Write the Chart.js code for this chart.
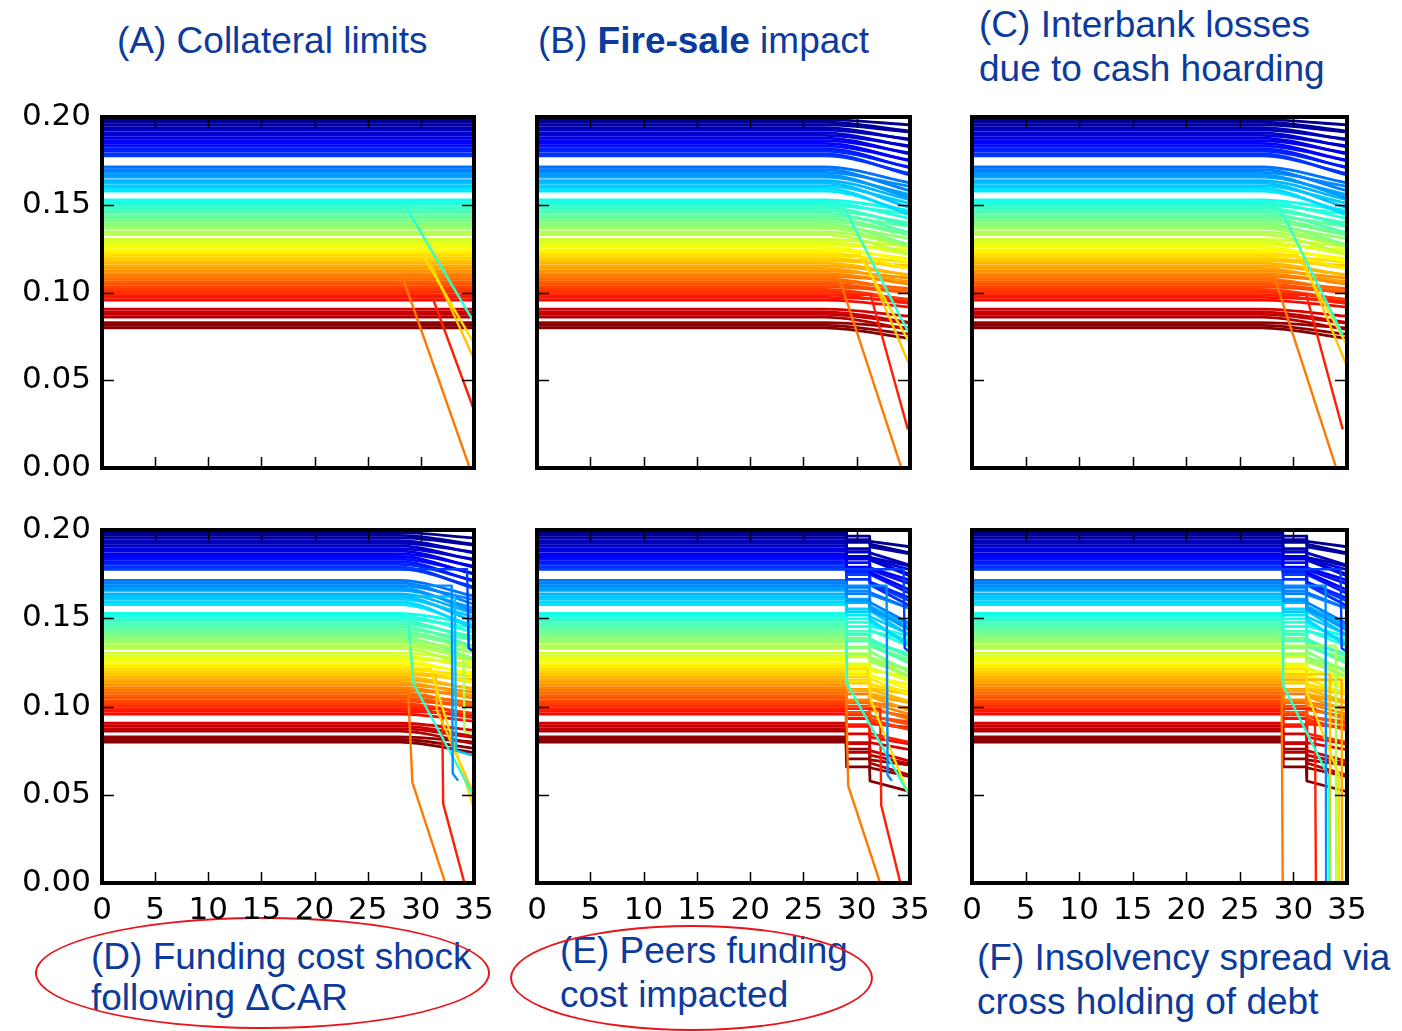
<!DOCTYPE html>
<html>
<head>
<meta charset="utf-8">
<script src="https://cdn.jsdelivr.net/npm/chart.js@4.4.0/dist/chart.umd.min.js"></script>
<style>
  body { margin: 0; width: 1402px; height: 1031px; background: #fff; position: relative; overflow: hidden; font-family: "Liberation Sans", Arial, sans-serif; }
  canvas { position: absolute; }
  .title { position: absolute; color: #0d3b9b; font-size: 37px; line-height: 44px; white-space: nowrap; }
  .ring { position: absolute; border: 2px solid #e8141c; border-radius: 50%; box-sizing: border-box; }
</style>
</head>
<body>
<div class="title" style="left:117px;top:19px">(A) Collateral limits</div>
<div class="title" style="left:538px;top:19px">(B) <b>Fire-sale</b> impact</div>
<div class="title" style="left:979px;top:3px">(C) Interbank losses<br>due to cash hoarding</div>
<div class="title" style="left:91px;top:936px;line-height:41px">(D) Funding cost shock<br>following ΔCAR</div>
<div class="title" style="left:560px;top:929px">(E) Peers funding<br>cost impacted</div>
<div class="title" style="left:977px;top:936px">(F) Insolvency spread via<br>cross holding of debt</div>
<div class="ring" style="left:35px;top:917px;width:455px;height:112px"></div>
<div class="ring" style="left:510px;top:925px;width:363px;height:106px"></div>

<canvas id="chartA"></canvas>
<canvas id="chartB"></canvas>
<canvas id="chartC"></canvas>
<canvas id="chartD"></canvas>
<canvas id="chartE"></canvas>
<canvas id="chartF"></canvas>

<script>
const xTickLabels = ['0', '5', '10', '15', '20', '25', '30', '35'];
const yTickLabels = ['0.00', '0.05', '0.10', '0.15', '0.20'];

// starting capital ratio of each bank (one flat line each)
const levels = [
  0.1985, 0.1970, 0.1955, 0.1940, 0.1925, 0.1910, 0.1895, 0.1880, 0.1865, 0.1850, 0.1835, 0.1820, 0.1805, 0.1790, 0.1778,
  0.1715, 0.1700, 0.1685, 0.1670, 0.1658,
  0.1638, 0.1623, 0.1608, 0.1593, 0.1578,
  0.1527, 0.1512, 0.1497, 0.1482, 0.1467, 0.1452, 0.1437, 0.1422, 0.1407, 0.1392, 0.1377, 0.1365,
  0.1345, 0.1330,
  0.1302, 0.1287, 0.1272, 0.1257, 0.1242, 0.1227, 0.1212, 0.1197, 0.1182, 0.1167, 0.1152, 0.1137,
  0.1122, 0.1107, 0.1092, 0.1077, 0.1062, 0.1047, 0.1032, 0.1017, 0.1002, 0.0987, 0.0972, 0.0957,
  0.0905, 0.0890, 0.0875, 0.0860,
  0.0828, 0.0813, 0.0798
];

// decline reached at t = 35 once fire sales start (panels B to F)
const fanDrop = [
  0.003, 0.005, 0.004, 0.007, 0.005, 0.008, 0.006, 0.009, 0.007, 0.010, 0.008, 0.011, 0.009, 0.012, 0.010,
  0.009, 0.012, 0.008, 0.013, 0.010,
  0.011, 0.014, 0.010, 0.015, 0.012,
  0.006, 0.009, 0.005, 0.010, 0.007, 0.011, 0.006, 0.009, 0.008, 0.012, 0.007, 0.010,
  0.008, 0.011,
  0.004, 0.007, 0.003, 0.008, 0.005, 0.009, 0.004, 0.006, 0.003, 0.007, 0.005, 0.008,
  0.004, 0.006, 0.003, 0.007, 0.004, 0.005, 0.003, 0.006, 0.004, 0.005, 0.002, 0.004,
  0.004, 0.006, 0.005, 0.007,
  0.003, 0.005, 0.006
];

// step down at t = 29 (funding cost to peers, panels E and F)
const stepAt29 = [
  0.002, 0.004, 0.001, 0.005, 0.003, 0.006, 0.002, 0.004, 0.003, 0.006, 0.002, 0.005, 0.004, 0.007, 0.003,
  0.004, 0.006, 0.003, 0.007, 0.005,
  0.005, 0.003, 0.007, 0.004, 0.006,
  0.003, 0.006, 0.002, 0.007, 0.004, 0.008, 0.003, 0.005, 0.002, 0.006, 0.004, 0.007,
  0.005, 0.003,
  0.002, 0.005, 0.003, 0.006, 0.002, 0.004, 0.007, 0.003, 0.005, 0.002, 0.006, 0.004,
  0.003, 0.007, 0.002, 0.005, 0.004, 0.008, 0.003, 0.006, 0.005, 0.009, 0.004, 0.007,
  0.006, 0.010, 0.008, 0.012,
  0.007, 0.011, 0.014
];

// second step down at t = 31.2 (panels E and F)
const stepAt31 = [
  0.003, 0.001, 0.004, 0.002, 0.005, 0.002, 0.004, 0.001, 0.005, 0.003, 0.004, 0.002, 0.006, 0.003, 0.005,
  0.003, 0.005, 0.002, 0.004, 0.006,
  0.002, 0.005, 0.003, 0.006, 0.004,
  0.004, 0.002, 0.005, 0.003, 0.006, 0.002, 0.005, 0.003, 0.004, 0.002, 0.006, 0.003,
  0.004, 0.002,
  0.003, 0.002, 0.004, 0.002, 0.005, 0.003, 0.002, 0.004, 0.003, 0.005, 0.002, 0.004,
  0.003, 0.002, 0.005, 0.003, 0.004, 0.002, 0.006, 0.003, 0.004, 0.005, 0.003, 0.006,
  0.005, 0.004, 0.007, 0.006,
  0.006, 0.005, 0.008
];

// banks that break down, per panel: starting level and [t, ratio] points after the flat part
const dropsA = [
  { from: 0.1497, path: [[28.5, 0.1497], [35, 0.083]] },
  { from: 0.1212, path: [[30.2, 0.1212], [35, 0.071]] },
  { from: 0.1182, path: [[30.8, 0.1182], [35, 0.062]] },
  { from: 0.1092, path: [[28.25, 0.1092], [34.6, 0.0]] },
  { from: 0.0987, path: [[31.0, 0.0987], [35, 0.033]] }
];
const dropsB = [
  { from: 0.1497, path: [[28.7, 0.1497], [34.8, 0.078]] },
  { from: 0.1212, path: [[30.3, 0.1212], [35, 0.071]] },
  { from: 0.1182, path: [[30.8, 0.1182], [35, 0.058]] },
  { from: 0.1092, path: [[28.3, 0.1092], [34.2, 0.0]] },
  { from: 0.0987, path: [[31.3, 0.0987], [34.8, 0.022]] }
];
const dropsC = [
  { from: 0.1497, path: [[28.6, 0.1497], [34.6, 0.076]] },
  { from: 0.1212, path: [[30.4, 0.1212], [35, 0.070]] },
  { from: 0.1182, path: [[30.9, 0.1182], [35, 0.058]] },
  { from: 0.1092, path: [[28.2, 0.1092], [34.0, 0.0]] },
  { from: 0.0987, path: [[31.2, 0.0987], [34.6, 0.022]] }
];
const dropsD = [
  { from: 0.1778, path: [[34.35, 0.1778], [34.5, 0.133], [35, 0.131]] },
  { from: 0.1685, path: [[32.9, 0.1685], [33.0, 0.062], [33.5, 0.058]] },
  { from: 0.1623, path: [[33.2, 0.1623], [33.3, 0.075], [35, 0.072]] },
  { from: 0.1345, path: [[34.0, 0.1345], [34.1, 0.086], [35, 0.084]] },
  { from: 0.1497, path: [[28.8, 0.1497], [29.3, 0.113], [34.9, 0.050]] },
  { from: 0.1212, path: [[30.9, 0.1212], [35, 0.042]] },
  { from: 0.1182, path: [[31.4, 0.1182], [31.5, 0.098], [35, 0.050]] },
  { from: 0.1092, path: [[28.8, 0.1092], [29.2, 0.057], [32.3, 0.0]] },
  { from: 0.0987, path: [[32.0, 0.0987], [32.1, 0.045], [34.1, 0.0]] }
];
const dropsE = [
  { from: 0.1778, path: [[34.4, 0.1778], [34.5, 0.133], [35, 0.131]] },
  { from: 0.1685, path: [[32.8, 0.1685], [32.9, 0.061], [33.3, 0.058]] },
  { from: 0.1497, path: [[29.0, 0.1497], [29.1, 0.113], [34.9, 0.050]] },
  { from: 0.1212, path: [[31.0, 0.1212], [31.3, 0.104], [35, 0.048]] },
  { from: 0.1092, path: [[29.0, 0.1092], [29.2, 0.055], [32.2, 0.0]] },
  { from: 0.0987, path: [[32.2, 0.0987], [32.3, 0.044], [34.1, 0.0]] }
];
const dropsF = [
  { from: 0.1778, path: [[34.4, 0.1778], [34.5, 0.133], [35, 0.131]] },
  { from: 0.1685, path: [[33.0, 0.1685], [33.05, 0.0]] },
  { from: 0.1497, path: [[29.0, 0.1497], [29.05, 0.112], [33.3, 0.060], [33.35, 0.0]] },
  { from: 0.1212, path: [[31.2, 0.1212], [31.3, 0.107], [34.2, 0.062], [34.25, 0.0]] },
  { from: 0.1182, path: [[33.4, 0.1182], [33.45, 0.0]] },
  { from: 0.1345, path: [[33.95, 0.1345], [34.0, 0.0]] },
  { from: 0.1152, path: [[34.5, 0.1152], [34.55, 0.0]] },
  { from: 0.1092, path: [[28.9, 0.1092], [29.0, 0.0]] },
  { from: 0.0987, path: [[32.0, 0.0987], [32.1, 0.0]] }
];

function jet(v) {
  const t = Math.min(1, Math.max(0, (0.2 - v) / 0.12));
  const c = k => Math.round(255 * Math.min(1, Math.max(0, 1.5 - Math.abs(4 * t - k))));
  return `rgb(${c(3)},${c(2)},${c(1)})`;
}

const pts = arr => arr.map(p => ({ x: p[0], y: p[1] }));

function flatPaths() {
  return levels.map(v => [[0, v], [35, v]]);
}
function fanPaths(start) {
  return levels.map((v, i) => [[0, v], [start, v], [35, v - fanDrop[i]]]);
}
function stepPaths() {
  return levels.map((v, i) => {
    const a = v - stepAt29[i];
    const b = a - stepAt31[i];
    return [[0, v], [29, v], [29.05, a], [31.2, a], [31.25, b], [35, b - fanDrop[i]]];
  });
}

const panels = [
  { id: 'chartA', area: [102, 117, 474, 468], paths: flatPaths(), drops: dropsA, showX: false, showY: true, smooth: false },
  { id: 'chartB', area: [537, 117, 910, 468], paths: fanPaths(27), drops: dropsB, showX: false, showY: false, smooth: true },
  { id: 'chartC', area: [972, 117, 1347, 468], paths: fanPaths(27), drops: dropsC, showX: false, showY: false, smooth: true },
  { id: 'chartD', area: [102, 530, 474, 883], paths: fanPaths(28), drops: dropsD, showX: true, showY: true, smooth: true },
  { id: 'chartE', area: [537, 530, 910, 883], paths: stepPaths(), drops: dropsE, showX: true, showY: false, smooth: false },
  { id: 'chartF', area: [972, 530, 1347, 883], paths: stepPaths(), drops: dropsF, showX: true, showY: false, smooth: false }
];

const frame = {
  id: 'frame',
  afterDatasetsDraw(chart) {
    const { ctx, chartArea: a, scales: { x, y } } = chart;
    ctx.save();
    ctx.strokeStyle = '#000';
    ctx.lineWidth = 1.5;
    ctx.beginPath();
    x.ticks.forEach(t => {
      const px = Math.round(x.getPixelForValue(t.value)) + 0.5;
      ctx.moveTo(px, a.bottom); ctx.lineTo(px, a.bottom - 11);
      ctx.moveTo(px, a.top); ctx.lineTo(px, a.top + 11);
    });
    y.ticks.forEach(t => {
      const py = Math.round(y.getPixelForValue(t.value)) + 0.5;
      ctx.moveTo(a.left, py); ctx.lineTo(a.left + 12, py);
      ctx.moveTo(a.right, py); ctx.lineTo(a.right - 12, py);
    });
    ctx.stroke();
    ctx.lineWidth = 4;
    ctx.strokeRect(a.left, a.top, a.right - a.left, a.bottom - a.top);
    ctx.restore();
  }
};

const PAD_L = 110, PAD_T = 45, PAD_R = 45, PAD_B = 60;
const tickFont = { family: 'DejaVu Sans', size: 31 };

panels.forEach(p => {
  const [L, T, R, B] = p.area;
  const cv = document.getElementById(p.id);
  cv.width = (R - L) + PAD_L + PAD_R;
  cv.height = (B - T) + PAD_T + PAD_B;
  cv.style.left = (L - PAD_L) + 'px';
  cv.style.top = (T - PAD_T) + 'px';

  const datasets = [];
  p.drops.forEach(d => {
    datasets.push({
      data: pts([[0, d.from]].concat(d.path)),
      borderColor: jet(d.from), borderWidth: 2.4, tension: 0
    });
  });
  p.paths.forEach((path, i) => {
    datasets.push({
      data: pts(path),
      borderColor: jet(levels[i]), borderWidth: 2.8,
      cubicInterpolationMode: p.smooth ? 'monotone' : 'default'
    });
  });
  datasets.forEach(d => { d.showLine = true; d.pointRadius = 0; d.fill = false; d.borderJoinStyle = 'round'; });

  new Chart(cv.getContext('2d'), {
    type: 'scatter',
    data: { datasets },
    options: {
      responsive: false,
      animation: false,
      events: [],
      devicePixelRatio: 1,
      layout: { padding: { left: 0, top: PAD_T, right: PAD_R, bottom: 0 } },
      plugins: { legend: { display: false }, tooltip: { enabled: false } },
      scales: {
        x: {
          type: 'linear', min: 0, max: 35,
          grid: { display: false, drawTicks: false }, border: { display: false },
          ticks: { display: p.showX, stepSize: 5, autoSkip: false, maxRotation: 0, padding: 9,
                   color: '#000', font: tickFont, callback: (v, i) => xTickLabels[i] },
          afterFit: s => { s.height = PAD_B; }
        },
        y: {
          type: 'linear', min: 0, max: 0.2,
          grid: { display: false, drawTicks: false }, border: { display: false },
          ticks: { display: p.showY, stepSize: 0.05, padding: 11,
                   color: '#000', font: tickFont, callback: (v, i) => yTickLabels[i] },
          afterFit: s => { s.width = PAD_L; }
        }
      }
    },
    plugins: [frame]
  });
});
</script>
</body>
</html>
